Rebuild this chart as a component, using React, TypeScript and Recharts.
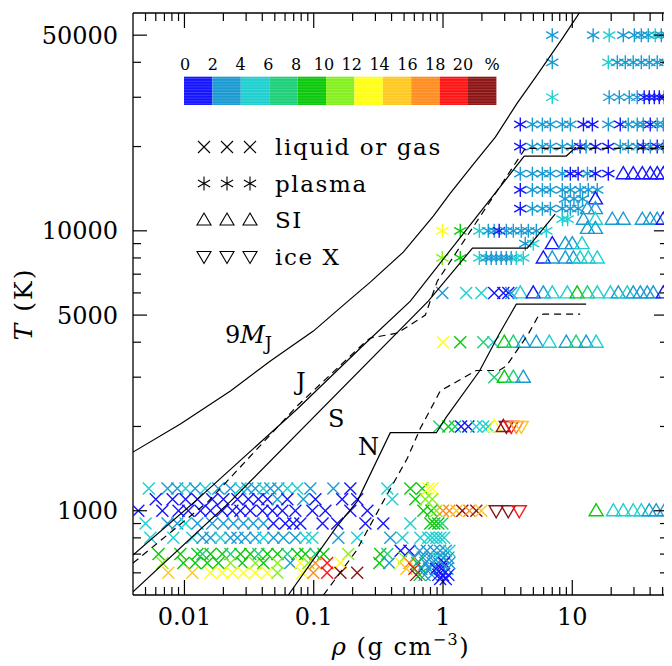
import React from 'react'
import { ScatterChart, Scatter, XAxis, YAxis } from 'recharts'

// each point: [rho (g/cm3), percent]
type Pt = [number, number]
type Row = { T: number; pts: Pt[] }

const binColors = [
  '#1414ff', '#1a9ad2', '#1ecfd0', '#1ccf78', '#0ac80a', '#84f01e',
  '#ffff14', '#ffc81e', '#ff8c1e', '#ff1414', '#8c1414',
]
const binLabels = ['0', '2', '4', '6', '8', '10', '12', '14', '16', '18', '20', '%']

const xMajor = [0.01, 0.1, 1, 10]
const xMinor = [0.005, 0.006, 0.007, 0.008, 0.009, 0.02, 0.03, 0.04, 0.05, 0.06, 0.07, 0.08, 0.09,
  0.2, 0.3, 0.4, 0.5, 0.6, 0.7, 0.8, 0.9, 2, 3, 4, 5, 6, 7, 8, 9, 20, 30, 40, 50]
const yMajor = [1000, 5000, 10000, 50000]
const yMinor = [600, 700, 800, 900, 2000, 3000, 4000, 6000, 7000, 8000, 9000, 20000, 30000, 40000]

const liquidRows: Row[] = [
  { T: 1200, pts: [[0.0053, 5], [0.0074, 3], [0.0088, 3], [0.0102, 5], [0.0121, 3], [0.0145, 5], [0.0183, 3], [0.0227, 3], [0.0271, 5], [0.0307, 3], [0.0353, 3], [0.0408, 5], [0.0462, 3], [0.0533, 3], [0.0625, 5], [0.0746, 5], [0.0942, 3], [0.142, 3], [0.192, 1], [0.371, 5], [0.559, 9], [0.691, 9], [0.769, 13], [0.826, 13]] },
  { T: 1100, pts: [[0.006, 1], [0.0081, 1], [0.0102, 1], [0.0126, 1], [0.0164, 1], [0.02, 1], [0.0257, 1], [0.0312, 1], [0.0373, 1], [0.0438, 1], [0.0524, 3], [0.0625, 1], [0.0831, 3], [0.103, 1], [0.166, 1], [0.217, 1], [0.405, 5], [0.611, 9], [0.73, 11], [0.826, 11]] },
  { T: 1000, pts: [[0.0044, 1], [0.00675, 1], [0.009, 1], [0.0107, 1], [0.0133, 1], [0.0159, 1], [0.0196, 1], [0.0235, 1], [0.0271, 1], [0.0323, 1], [0.0401, 1], [0.0479, 1], [0.0572, 1], [0.0721, 1], [0.0976, 1], [0.123, 1], [0.192, 1], [0.26, 1], [0.705, 9], [0.812, 9], [0.888, 11], [1.0, 17], [1.12, 17], [1.27, 15], [1.41, 21], [1.6, 17], [1.81, 21], [1.98, 15]] },
  { T: 900, pts: [[0.005, 5], [0.0074, 3], [0.0088, 3], [0.0102, 5], [0.0126, 3], [0.0164, 3], [0.02, 3], [0.0239, 3], [0.0286, 3], [0.0341, 3], [0.0408, 3], [0.0488, 1], [0.0603, 1], [0.0695, 1], [0.0788, 1], [0.117, 1], [0.152, 1], [0.251, 1], [0.345, 1], [0.559, 5], [0.798, 9], [0.857, 9], [0.92, 9], [0.988, 7]] },
  { T: 800, pts: [[0.00545, 5], [0.0082, 5], [0.0115, 5], [0.0138, 3], [0.0159, 3], [0.019, 5], [0.0227, 3], [0.0257, 3], [0.0296, 3], [0.0353, 3], [0.0408, 5], [0.0488, 3], [0.0582, 3], [0.0721, 3], [0.0861, 5], [0.0976, 5], [0.155, 3], [0.217, 5], [0.391, 3], [0.485, 5], [0.668, 5], [0.769, 5], [0.826, 5], [0.888, 5], [0.953, 5], [1.02, 5]] },
  { T: 700, pts: [[0.0063, 9], [0.0093, 9], [0.0126, 9], [0.0138, 7], [0.0159, 9], [0.0196, 9], [0.0227, 7], [0.0271, 9], [0.0323, 9], [0.0373, 7], [0.0438, 9], [0.0524, 9], [0.0625, 7], [0.0746, 9], [0.0861, 9], [0.103, 7], [0.119, 9], [0.185, 11], [0.327, 9], [0.371, 7]] },
  { T: 650, pts: [[0.00675, 11], [0.0098, 9], [0.0121, 9], [0.015, 9], [0.0183, 9], [0.0227, 11], [0.028, 9], [0.0353, 11], [0.0408, 9], [0.0524, 11], [0.0659, 3], [0.0788, 13], [0.0908, 11], [0.103, 17], [0.127, 19], [0.161, 13], [0.322, 9], [0.384, 3]] },
  { T: 600, pts: [[0.0075, 15], [0.0115, 15], [0.0159, 13], [0.0196, 13], [0.0235, 13], [0.0286, 13], [0.0353, 13], [0.0438, 13], [0.0524, 11], [0.0816, 13], [0.0993, 17], [0.127, 19], [0.161, 21], [0.217, 21]] },
  // dense group near 1 g/cm3
  { T: 720, pts: [[0.47, 1], [0.55, 1], [0.66, 3], [0.75, 3], [0.85, 3], [0.95, 3], [1.05, 3], [1.12, 5]] },
  { T: 680, pts: [[0.5, 11], [0.6, 3], [0.7, 3], [0.8, 3], [0.9, 5], [1.0, 3], [1.1, 3]] },
  { T: 650, pts: [[0.47, 13], [0.55, 17], [0.63, 9], [0.73, 3], [0.83, 3], [0.93, 3], [1.02, 1], [1.12, 3]] },
  { T: 620, pts: [[0.52, 15], [0.6, 19], [0.68, 3], [0.78, 3], [0.88, 1], [0.97, 1], [1.08, 3]] },
  { T: 590, pts: [[0.62, 21], [0.66, 9], [0.72, 3], [0.82, 3], [0.92, 1], [1.0, 1], [1.1, 1]] },
  { T: 570, pts: [[0.95, 1], [1.05, 1]] },
  // higher temperatures
  { T: 6000, pts: [[0.988, 3], [1.51, 5], [1.98, 5], [2.49, 1], [2.93, 1], [3.2, 1], [3.37, 3]] },
  { T: 4000, pts: [[1.0, 13], [1.36, 9], [2.05, 7], [2.45, 5]] },
  { T: 3000, pts: [[2.49, 7]] },
  { T: 2000, pts: [[0.936, 7], [1.1, 9], [1.24, 7], [1.38, 1], [1.57, 1], [1.81, 5], [2.05, 5], [2.24, 5]] },
]

const plasmaRows: Row[] = [
  { T: 50000, pts: [[7.0, 3], [14.5, 3], [19.3, 5], [24.8, 3], [30.2, 3], [34.2, 3], [38.7, 3], [43.8, 5], [48.8, 3], [54.3, 3]] },
  { T: 40000, pts: [[7.0, 3], [19.0, 5], [22.3, 3], [25.7, 3], [29.6, 3], [34.2, 3], [39.4, 3], [45.4, 3], [52.4, 3]] },
  { T: 30000, pts: [[7.0, 5], [19.3, 3], [23.1, 3], [27.6, 3], [31.8, 3], [36.0, 1], [39.4, 1], [43.1, 1], [47.1, 1], [51.5, 1]] },
  { T: 24000, pts: [[3.96, 1], [4.91, 3], [5.87, 3], [6.76, 3], [8.37, 3], [9.66, 3], [12.2, 1], [14.3, 1], [19.0, 3], [23.5, 1], [27.1, 3], [31.8, 3], [35.4, 3], [40.1, 1], [45.4, 3], [50.6, 3]] },
  { T: 20000, pts: [[3.96, 1], [4.91, 3], [5.87, 3], [6.76, 3], [8.37, 3], [10.0, 3], [11.5, 1], [12.8, 3], [15.1, 1], [19.0, 1], [23.5, 3], [27.1, 3], [31.8, 3], [35.4, 1], [40.1, 3], [45.4, 1], [50.6, 3]] },
  { T: 16000, pts: [[3.96, 3], [4.91, 3], [5.87, 3], [6.76, 3], [8.37, 3], [9.66, 1], [11.1, 1], [13.1, 3], [15.1, 1], [19.0, 1]] },
  { T: 14000, pts: [[3.96, 1], [4.91, 3], [5.87, 3], [6.76, 3], [8.37, 3], [9.66, 3], [11.5, 3], [13.3, 3], [15.6, 3]] },
  { T: 13000, pts: [[8.8, 3], [10.3, 3], [12.0, 3]] },
  { T: 12000, pts: [[3.96, 1], [4.91, 3], [5.87, 3], [6.76, 3], [8.37, 3], [9.66, 3], [11.1, 3]] },
  { T: 11000, pts: [[8.4, 5], [9.2, 5]] },
  { T: 10000, pts: [[0.988, 13], [1.36, 9], [1.91, 5], [2.24, 3], [2.49, 3], [2.72, 1], [3.09, 3], [3.5, 3], [4.03, 3], [4.57, 3], [5.27, 3], [6.3, 5]] },
  { T: 9000, pts: [[4.33, 3], [4.99, 5]] },
  { T: 8000, pts: [[0.988, 11], [1.36, 9], [1.91, 5], [2.16, 3], [2.36, 3], [2.58, 3], [2.82, 3], [3.09, 3], [3.37, 3], [3.69, 5], [4.18, 5]] },
]

const siRows: Row[] = [
  { T: 16000, pts: [[24.8, 1], [29.6, 1], [34.8, 1], [40.1, 1], [45.4, 1], [50.6, 1]] },
  { T: 13000, pts: [[15.1, 1]] },
  { T: 12000, pts: [[13.1, 3], [15.1, 3]] },
  { T: 11000, pts: [[12.2, 3], [15.1, 5], [20.4, 3], [24.8, 3], [34.8, 3], [40.1, 3], [45.4, 3], [50.6, 1]] },
  { T: 10200, pts: [[13.1, 3], [15.1, 3]] },
  { T: 9000, pts: [[7.0, 1], [8.83, 3], [10.0, 3], [11.9, 5]] },
  { T: 8000, pts: [[5.97, 1], [7.0, 3], [8.83, 3], [10.2, 3], [11.5, 5], [13.3, 5], [15.6, 5]] },
  { T: 6000, pts: [[3.96, 5], [4.99, 1], [5.97, 3], [7.0, 5], [9.15, 5], [10.9, 9], [13.1, 7], [15.6, 5], [19.7, 5], [22.7, 3], [26.6, 5], [29.6, 3], [33.6, 3], [38.0, 3], [42.3, 3], [50.6, 1]] },
  { T: 4000, pts: [[2.98, 9], [3.5, 7], [4.18, 3], [5.27, 3], [6.64, 5], [8.99, 3], [10.7, 7], [12.8, 3], [15.3, 5]] },
  { T: 3000, pts: [[2.98, 9], [3.5, 7], [4.18, 3]] },
  { T: 2000, pts: [[2.49, 13], [2.93, 21]] },
  { T: 1000, pts: [[15.3, 9], [20.8, 5], [24.8, 5], [29.6, 5], [34.2, 5], [39.4, 3], [44.6, 3], [51.5, 3]] },
]

const iceRows: Row[] = [
  { T: 2000, pts: [[3.09, 21], [3.37, 19], [3.69, 17], [4.03, 15]] },
  { T: 1000, pts: [[2.58, 21], [3.2, 21], [3.89, 19]] },
]

// planetary adiabats, [rho, T]
const curve9MJ = [[0.004, 1620], [0.0093, 2040], [0.0227, 2680], [0.0462, 3425], [0.0993, 4383], [0.192, 5702], [0.274, 6558], [0.493, 8395], [0.841, 11290], [1.14, 13640], [1.72, 17300], [2.54, 21610], [3.75, 28580], [5.27, 35680], [8.52, 49180], [11.6, 61000]]
const curveJ = [[0.004, 695], [0.0121, 1080], [0.0746, 2310], [0.242, 3900], [0.559, 5610], [4.25, 18500], [8.99, 18500], [10.7, 19900]]
const curveJdash = [[0.004, 650], [0.0153, 1080], [0.0746, 2370], [0.242, 3950], [0.274, 4140], [0.443, 4310], [0.73, 5000], [0.903, 6610], [4.33, 19700], [55, 19700]]
const curveS = [[0.004, 513], [0.0227, 1080], [0.769, 5610], [1.69, 8670], [4.49, 8670], [7.39, 11500]]
const curveN = [[0.0636, 500], [0.15, 875], [0.217, 1080], [0.391, 1900], [0.888, 1900], [1.06, 2160], [1.91, 3150], [2.72, 4280], [3.69, 5470], [12.8, 5470]]
const curveNdash = [[0.119, 500], [0.213, 718], [0.345, 1080], [0.53, 1540], [0.668, 1970], [0.953, 2680], [1.81, 3170], [2.72, 3170], [3.09, 3290], [4.57, 4280], [5.46, 4960], [5.97, 5040], [11.5, 5040]]

const toPoints = (rows: Row[]) =>
  rows.flatMap((r) => r.pts.map(([rho, pct]) => ({ x: rho, y: r.T, c: pct })))
const toLine = (pts: number[][]) => pts.map(([x, y]) => ({ x, y }))
const colorOf = (pct: number) => binColors[Math.min(10, Math.floor(pct / 2))]

const crossPath = (cx: number, cy: number) =>
  `M${cx - 6},${cy - 6}L${cx + 6},${cy + 6}M${cx - 6},${cy + 6}L${cx + 6},${cy - 6}`
const starPath = (cx: number, cy: number) =>
  `M${cx},${cy - 7}L${cx},${cy + 7}M${cx - 6.1},${cy - 3.5}L${cx + 6.1},${cy + 3.5}M${cx - 6.1},${cy + 3.5}L${cx + 6.1},${cy - 3.5}`
const upPath = (cx: number, cy: number) =>
  `M${cx},${cy - 7}L${cx + 7},${cy + 5}L${cx - 7},${cy + 5}Z`
const downPath = (cx: number, cy: number) =>
  `M${cx},${cy + 7}L${cx + 7},${cy - 5}L${cx - 7},${cy - 5}Z`

const marker = (fn: (cx: number, cy: number) => string) => (p: any) => (
  <path d={fn(p.cx, p.cy)} stroke={colorOf(p.payload.c)} strokeWidth={1.4} fill="none" />
)
const noShape = () => <g />

const XTick = (props: any) => {
  const { x, y, payload, side } = props
  const major = xMajor.includes(payload.value)
  const len = major ? 15 : 8
  const dir = side === 'bottom' ? -1 : 1
  return (
    <g>
      <line x1={x} y1={y} x2={x} y2={y + dir * len} stroke="#000" strokeWidth={1.2} />
      {major && side === 'bottom' && (
        <text x={x} y={y + 30} textAnchor="middle" fontSize={24} fill="#000">
          {String(payload.value)}
        </text>
      )}
    </g>
  )
}

const YTick = (props: any) => {
  const { x, y, payload, side } = props
  const major = yMajor.includes(payload.value)
  const len = major ? 14 : 8
  const dir = side === 'left' ? 1 : -1
  return (
    <g>
      <line x1={x} y1={y} x2={x + dir * len} y2={y} stroke="#000" strokeWidth={1.2} />
      {major && side === 'left' && (
        <text x={x - 15} y={y} dy="0.36em" textAnchor="end" fontSize={24} fill="#000">
          {String(payload.value)}
        </text>
      )}
    </g>
  )
}

const axisLine = { stroke: '#000', strokeWidth: 1.3 }
const xTicks = [...xMajor, ...xMinor]
const yTicks = [...yMajor, ...yMinor]

const curves = [
  { pts: curve9MJ, dash: undefined },
  { pts: curveJ, dash: undefined },
  { pts: curveJdash, dash: '7 5' },
  { pts: curveS, dash: undefined },
  { pts: curveN, dash: undefined },
  { pts: curveNdash, dash: '7 5' },
]

const legendRows = [
  { label: 'liquid or gas', fn: crossPath },
  { label: 'plasma', fn: starPath },
  { label: 'SI', fn: upPath },
  { label: 'ice X', fn: downPath },
]

export default function App() {
  const font = 'DejaVu Serif'
  return (
    <div style={{ position: 'relative', width: 664, height: 658, fontFamily: font }}>
      <ScatterChart width={664} height={650} margin={{ top: 4, right: 3, bottom: 0, left: 0 }}>
        <XAxis xAxisId="b" type="number" dataKey="x" scale="log" domain={[0.004, 55]} allowDataOverflow
          ticks={xTicks} interval={0} tickLine={false} tickSize={0} tickMargin={0} height={63}
          axisLine={axisLine} tick={<XTick side="bottom" />} />
        <XAxis xAxisId="t" orientation="top" type="number" dataKey="x" scale="log" domain={[0.004, 55]} allowDataOverflow
          ticks={xTicks} interval={0} tickLine={false} tickSize={0} tickMargin={0} height={1}
          axisLine={axisLine} tick={<XTick side="top" />} />
        <YAxis yAxisId="l" type="number" dataKey="y" scale="log" domain={[500, 60000]} allowDataOverflow
          ticks={yTicks} interval={0} tickLine={false} tickSize={0} tickMargin={0} width={125}
          axisLine={axisLine} tick={<YTick side="left" />} />
        <YAxis yAxisId="r" orientation="right" type="number" dataKey="y" scale="log" domain={[500, 60000]} allowDataOverflow
          ticks={yTicks} interval={0} tickLine={false} tickSize={0} tickMargin={0} width={1}
          axisLine={axisLine} tick={<YTick side="right" />} />
        <Scatter xAxisId="b" yAxisId="l" data={toPoints(liquidRows)} shape={marker(crossPath)} isAnimationActive={false} />
        <Scatter xAxisId="b" yAxisId="l" data={toPoints(plasmaRows)} shape={marker(starPath)} isAnimationActive={false} />
        <Scatter xAxisId="b" yAxisId="l" data={toPoints(siRows)} shape={marker(upPath)} isAnimationActive={false} />
        <Scatter xAxisId="b" yAxisId="l" data={toPoints(iceRows)} shape={marker(downPath)} isAnimationActive={false} />
        {curves.map((c, i) => (
          <Scatter key={i} xAxisId="b" yAxisId="l" data={toLine(c.pts)} shape={noShape}
            line={{ stroke: '#000', strokeWidth: 1.2, strokeDasharray: c.dash }}
            lineType="joint" isAnimationActive={false} />
        ))}
      </ScatterChart>
      <svg width={664} height={658} style={{ position: 'absolute', left: 0, top: 0, pointerEvents: 'none', overflow: 'visible' }}
        fontFamily={font}>
        {binColors.map((col, i) => (
          <rect key={col} x={176 + i * 28.4} y={68.7} width={28.4} height={28.3} fill={col} />
        ))}
        {Array.from({ length: 10 }, (_, k) => (
          <line key={k} x1={176} x2={488.4} y1={70.5 + k * 2.8} y2={70.5 + k * 2.8}
            stroke="#fff" strokeOpacity={0.22} strokeWidth={0.8} />
        ))}
        {binLabels.map((t, i) => (
          <text key={t} x={i < 11 ? 177 + i * 27.8 : 484} y={62} textAnchor="middle" fontSize={16}>{t}</text>
        ))}
        {legendRows.map((r, i) => {
          const cy = 139 + i * 36.5
          return (
            <g key={r.label}>
              {[196, 219, 242].map((cx) => (
                <path key={cx} d={r.fn(cx, cy)} stroke="#000" strokeWidth={1.1} fill="none" />
              ))}
              <text x={267} y={cy + 8} fontSize={23} letterSpacing={1.6}>{r.label}</text>
            </g>
          )
        })}
        <text x={217} y={335} fontSize={24}>
          9<tspan fontStyle="italic">M</tspan>
          <tspan fontSize={18} dy={7}>J</tspan>
        </text>
        <text x={288} y={382} fontSize={24}>J</text>
        <text x={320} y={419} fontSize={24}>S</text>
        <text x={350} y={447} fontSize={24}>N</text>
        <text transform="translate(24,296) rotate(-90)" textAnchor="middle" fontSize={25} letterSpacing={2}>
          <tspan fontStyle="italic">T</tspan> (K)
        </text>
        <text x={393} y={647} textAnchor="middle" fontSize={24} letterSpacing={1.5}>
          <tspan fontStyle="italic">ρ</tspan> (g cm<tspan fontSize={16} dy={-10}>−3</tspan>
          <tspan dy={10}>)</tspan>
        </text>
      </svg>
    </div>
  )
}
